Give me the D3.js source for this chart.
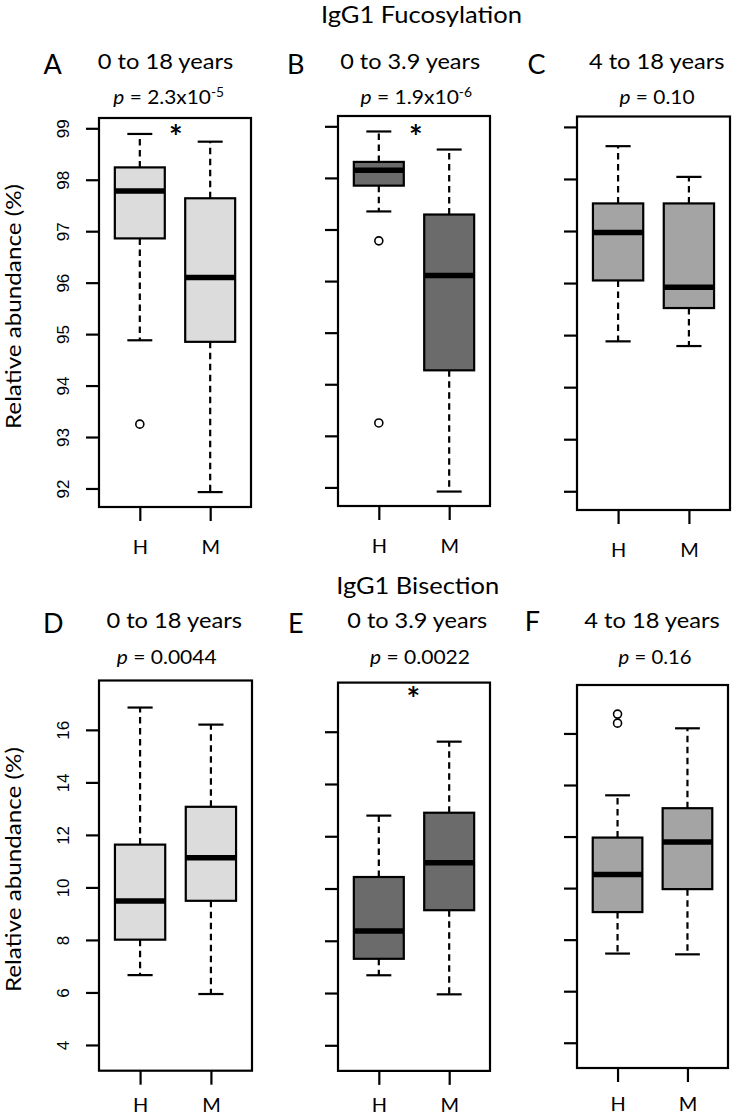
<!DOCTYPE html>
<html><head><meta charset="utf-8">
<script src="https://cdn.jsdelivr.net/npm/d3@7"></script>
<style>body{margin:0;background:#fff}svg{display:block}</style>
</head><body><svg id="c" width="733" height="1119"></svg>
<script>
// ---------------- DATA ----------------
const categories = ["H", "M"];
const groupTitles = ["IgG1 Fucosylation", "IgG1 Bisection"];
const panelLetters = ["A", "B", "C", "D", "E", "F"];
const ageRanges = ["0 to 18 years", "0 to 3.9 years", "4 to 18 years", "0 to 18 years", "0 to 3.9 years", "4 to 18 years"];
const pMantissa = ["2.3x10", "1.9x10", "0.10", "0.0044", "0.0022", "0.16"];
const pExponent = ["-5", "-6", "", "", "", ""];
const significant = [true, true, false, false, true, false];
const yAxisTitle = "Relative abundance (%)";

// five-number summaries per group: [lower whisker, Q1, median, Q3, upper whisker]
const fucA = [[94.88, 96.86, 97.78, 98.24, 98.89], [91.93, 94.85, 96.10, 97.64, 98.74]];
const fucB = [[97.35, 97.85, 98.15, 98.31, 98.90], [91.92, 94.27, 96.11, 97.29, 98.55]];
const fucC = [[94.88, 96.05, 96.97, 97.53, 98.63], [94.79, 95.52, 95.92, 97.53, 98.04]];
const bisD = [[6.66, 8.01, 9.48, 11.63, 16.85], [5.94, 9.49, 11.13, 13.07, 16.20]];
const bisE = [[6.68, 7.31, 8.37, 10.44, 12.79], [5.95, 9.17, 10.99, 12.90, 15.62]];
const bisF = [[7.46, 9.07, 10.53, 11.96, 13.60], [7.43, 9.96, 11.79, 13.10, 16.20]];
// outliers per group
const fucA_out = [[93.25], []];
const fucB_out = [[96.78, 93.25], []];
const fucC_out = [[], []];
const bisD_out = [[], []];
const bisE_out = [[], []];
const bisF_out = [[16.40, 16.75], []];

const fucTicks = [92, 93, 94, 95, 96, 97, 98, 99];
const bisTicks = [4, 6, 8, 10, 12, 14, 16];
const fucLimits = [91.64, 99.2];
const bisLimits = [3.02, 17.88];

// ---------------- STYLE / LAYOUT ----------------
const fills = ["#dcdcdc", "#6b6b6b", "#a4a4a4"];
const SANS = "Lato, 'Open Sans', sans-serif";
const TICKFONT = "'Liberation Sans', Arial, sans-serif";

const panels = [
  {stats: fucA, out: fucA_out, ticks: fucTicks, lim: fucLimits, box: [99, 251, 118, 507], col: 0, labels: true, lab: 47,
   letter: [52.7, 74], sub: [165.5, 69, 135.6], p: [168.7, 104, 110.7], star: [175.7, 133]},
  {stats: fucB, out: fucB_out, ticks: fucTicks, lim: fucLimits, box: [338, 490, 116, 506], col: 1, labels: false, lab: 47,
   letter: [295.7, 74], sub: [410.2, 69, 140], p: [416.3, 104, 111.5], star: [415.7, 133]},
  {stats: fucC, out: fucC_out, ticks: fucTicks, lim: fucLimits, box: [577, 730, 116.5, 510], col: 2, labels: false, lab: 47,
   letter: [536.5, 74], sub: [656.7, 69, 135.6], p: [657, 104, 75]},
  {stats: bisD, out: bisD_out, ticks: bisTicks, lim: bisLimits, box: [99, 252, 680.5, 1070.7], col: 0, labels: true, lab: 41,
   letter: [53.3, 633], sub: [174.2, 628.3, 135.6], p: [166.7, 664, 100]},
  {stats: bisE, out: bisE_out, ticks: bisTicks, lim: bisLimits, box: [338, 490, 682.6, 1070.9], col: 1, labels: false, lab: 41,
   letter: [295.7, 632.7], sub: [417.3, 628, 140], p: [420, 664, 100], star: [413.3, 695]},
  {stats: bisF, out: bisF_out, ticks: bisTicks, lim: bisLimits, box: [577, 728, 685, 1068], col: 2, labels: false, lab: 43,
   letter: [532.5, 631.3], sub: [652, 628, 135.6], p: [655, 664, 73]}
];

const svg = d3.select("#c");

function label(str, x, y, size, len) {
  const t = svg.append("text").attr("x", x).attr("y", y)
    .attr("text-anchor", "middle").attr("font-family", SANS).attr("font-size", size)
    .attr("fill", "#000").text(str);
  if (len) t.attr("textLength", len).attr("lengthAdjust", "spacingAndGlyphs");
  return t;
}

// group titles
label(groupTitles[0], 421.5, 22.5, 22.5, 201);
label(groupTitles[1], 417.7, 593.5, 23, 163);

panels.forEach((P, k) => {
  const [x0, x1, y0, y1] = P.box;
  const x = d3.scaleLinear().domain([0.42, 2.58]).range([x0, x1]);
  const y = d3.scaleLinear().domain(P.lim).range([y1, y0]);
  const g = svg.append("g");
  const bw = 0.71;

  P.stats.forEach((s, i) => {
    const cx = x(i + 1);
    const half = (x(i + 1 + bw / 2) - x(i + 1 - bw / 2)) / 2;
    const dash = "6.5,4.5";
    g.append("line").attr("x1", cx).attr("x2", cx).attr("y1", y(s[3])).attr("y2", y(s[4]))
      .attr("stroke", "#000").attr("stroke-width", 2.2).attr("stroke-dasharray", dash);
    g.append("line").attr("x1", cx).attr("x2", cx).attr("y1", y(s[1])).attr("y2", y(s[0]))
      .attr("stroke", "#000").attr("stroke-width", 2.2).attr("stroke-dasharray", dash);
    [s[0], s[4]].forEach(v => {
      g.append("line").attr("x1", cx - half / 2).attr("x2", cx + half / 2).attr("y1", y(v)).attr("y2", y(v))
        .attr("stroke", "#000").attr("stroke-width", 2.2);
    });
    g.append("rect").attr("x", cx - half).attr("y", y(s[3])).attr("width", 2 * half)
      .attr("height", y(s[1]) - y(s[3])).attr("fill", fills[P.col])
      .attr("stroke", "#000").attr("stroke-width", 2.2);
    g.append("line").attr("x1", cx - half).attr("x2", cx + half).attr("y1", y(s[2])).attr("y2", y(s[2]))
      .attr("stroke", "#000").attr("stroke-width", 5.5);
    P.out[i].forEach(v => {
      g.append("circle").attr("cx", cx).attr("cy", y(v)).attr("r", 4)
        .attr("fill", "none").attr("stroke", "#000").attr("stroke-width", 1.6);
    });
  });

  // frame
  g.append("rect").attr("x", x0).attr("y", y0).attr("width", x1 - x0).attr("height", y1 - y0)
    .attr("fill", "none").attr("stroke", "#000").attr("stroke-width", 2.2);

  // left axis
  const ax = g.append("g").attr("transform", `translate(${x0},0)`)
    .call(d3.axisLeft(y).tickValues(P.ticks).tickSize(13).tickFormat(P.labels ? d3.format("d") : () => ""));
  ax.select(".domain").remove();
  ax.attr("color", "#000");
  ax.selectAll(".tick line").attr("stroke-width", 2.2);
  ax.selectAll(".tick text")
    .attr("x", null).attr("dy", null).attr("y", null)
    .attr("text-anchor", "middle")
    .attr("font-family", TICKFONT).attr("font-size", 17)
    .attr("transform", `translate(${68.5 - x0},0) rotate(-90)`);

  // bottom axis
  const bx = g.append("g").attr("transform", `translate(0,${y1})`)
    .call(d3.axisBottom(x).tickValues([1, 2]).tickSize(14).tickFormat(d => categories[d - 1]));
  bx.select(".domain").remove();
  bx.attr("color", "#000");
  bx.selectAll(".tick line").attr("stroke-width", 2.2);
  bx.selectAll(".tick text").attr("y", P.lab).attr("dy", null)
    .attr("font-family", SANS).attr("font-size", 20);

  // y axis title
  if (P.labels) {
    svg.append("text").attr("text-anchor", "middle").attr("font-family", SANS).attr("font-size", 21.5)
      .attr("textLength", 245).attr("lengthAdjust", "spacingAndGlyphs")
      .attr("transform", `translate(21,${(y0 + y1) / 2 - 6}) rotate(-90)`).text(yAxisTitle);
  }

  // panel letter, age range, p value
  label(panelLetters[k], P.letter[0], P.letter[1], 27);
  label(ageRanges[k], P.sub[0], P.sub[1], 22, P.sub[2]);
  const pt = svg.append("text").attr("x", P.p[0]).attr("y", P.p[1]).attr("text-anchor", "middle")
    .attr("font-family", SANS).attr("font-size", 19)
    .attr("textLength", P.p[2]).attr("lengthAdjust", "spacingAndGlyphs");
  pt.append("tspan").attr("font-style", "italic").text("p");
  pt.append("tspan").text(" = " + pMantissa[k]);
  if (pExponent[k]) pt.append("tspan").attr("dy", -7.5).attr("font-size", 12.5).text(pExponent[k]);

  if (significant[k] && P.star) {
    svg.append("text").attr("x", P.star[0]).attr("y", P.star[1] + 16).attr("text-anchor", "middle")
      .attr("font-family", SANS).attr("font-weight", "bold").attr("font-size", 32).text("*");
  }
});
</script>
</body></html>
